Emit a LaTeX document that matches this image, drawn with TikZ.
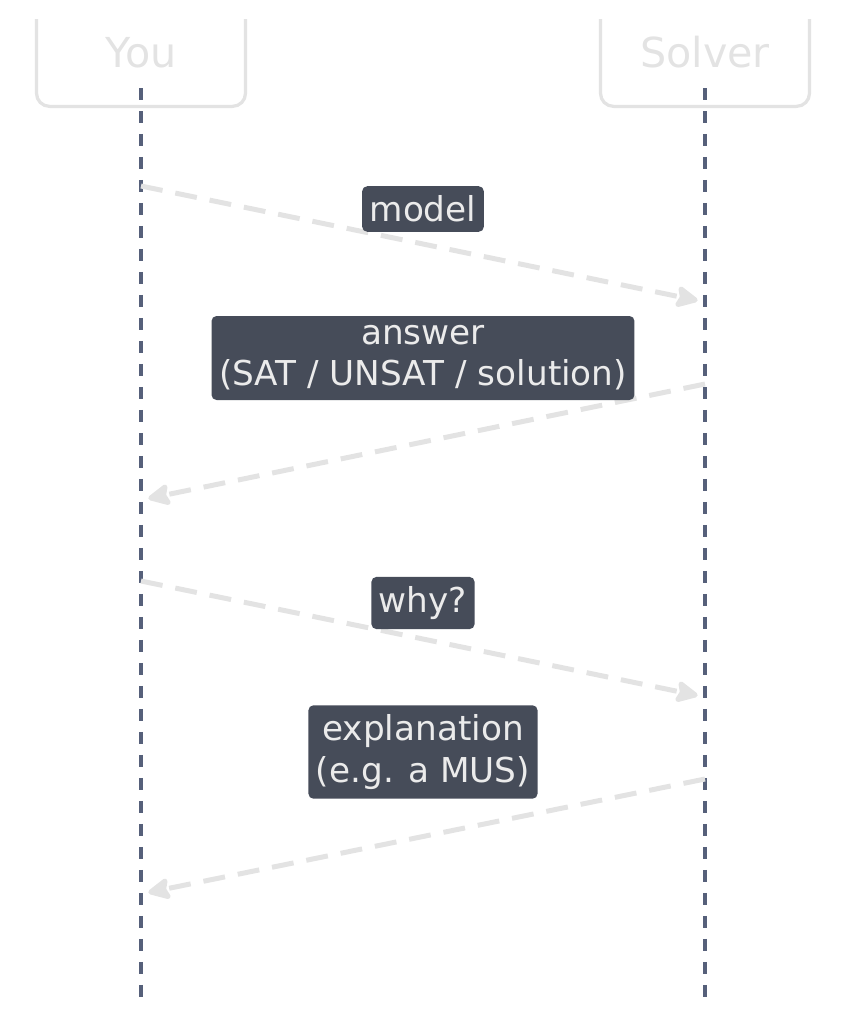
\documentclass[tikz,border=0pt]{standalone}
\usepackage{fontspec}
\setmainfont{DejaVu Sans}
\usetikzlibrary{arrows.meta, positioning, calc}
\definecolor{lifeslate}{HTML}{56607A}
\definecolor{msggray}{HTML}{E3E3E3}
\definecolor{labelbg}{HTML}{464C59}
\definecolor{labeltext}{HTML}{EBEBEB}
\definecolor{headgray}{HTML}{E3E3E3}

\begin{document}
\begin{tikzpicture}[x=0.02cm, y=-0.02cm,
  head/.style={rectangle, draw=headgray, line width=0.065cm, rounded corners=0.26cm, text=headgray, font=\fontsize{23.5}{27}\selectfont, minimum width=4.18cm, inner sep=0pt, text height=2cm, text depth=0.78cm, anchor=south},
  life/.style={draw=lifeslate, line width=0.07cm, dash pattern=on 0.24cm off 0.22cm},
  msg/.style={draw=msggray, line width=0.1cm, dash pattern=on 0.44cm off 0.26cm, -{Stealth[length=0.52cm, width=0.5cm, inset=0.09cm, round]}, shorten >=0.15cm},
  msglabel/.style={rectangle, fill=labelbg, text=labeltext, rounded corners=0.1cm, align=center, font=\fontsize{19.5}{23.5}\selectfont, inner xsep=0.15cm, inner ysep=0.19cm}
]
  \useasboundingbox (0,0) rectangle (845,1025);

  % Participants (top edge cut off)
  \begin{scope}
    \clip (0,19) rectangle (845,1025);
    \node[head] (you) at (141,108) {You};
    \node[head] (solver) at (705,108) {Solver};
  \end{scope}

  % Lifelines
  \coordinate (youtop) at (141,88);
  \coordinate (youend) at (141,1005);
  \coordinate (solvertop) at (705,88);
  \coordinate (solverend) at (705,1005);
  \draw[life] (youtop) -- (youend);
  \draw[life] (solvertop) -- (solverend);

  % Message points
  \coordinate (m1s) at (141,186);
  \coordinate (m1e) at (705,302);
  \coordinate (m2s) at (705,384);
  \coordinate (m2e) at (141,500);
  \coordinate (m3s) at (141,581);
  \coordinate (m3e) at (705,697);
  \coordinate (m4s) at (705,779);
  \coordinate (m4e) at (141,894);

  % Messages
  \draw[msg] (m1s) -- (m1e);
  \draw[msg] (m2s) -- (m2e);
  \draw[msg] (m3s) -- (m3e);
  \draw[msg] (m4s) -- (m4e);

  % Labels
  \node[msglabel] (model) at (423,209) {model};
  \node[msglabel] (answer) at (423,358) {answer\\(SAT / UNSAT / solution)};
  \node[msglabel] (why) at (423,603) {why?};
  \node[msglabel] (expl) at (423,752) {explanation\\(e.g. a MUS)};
\end{tikzpicture}
\end{document}
